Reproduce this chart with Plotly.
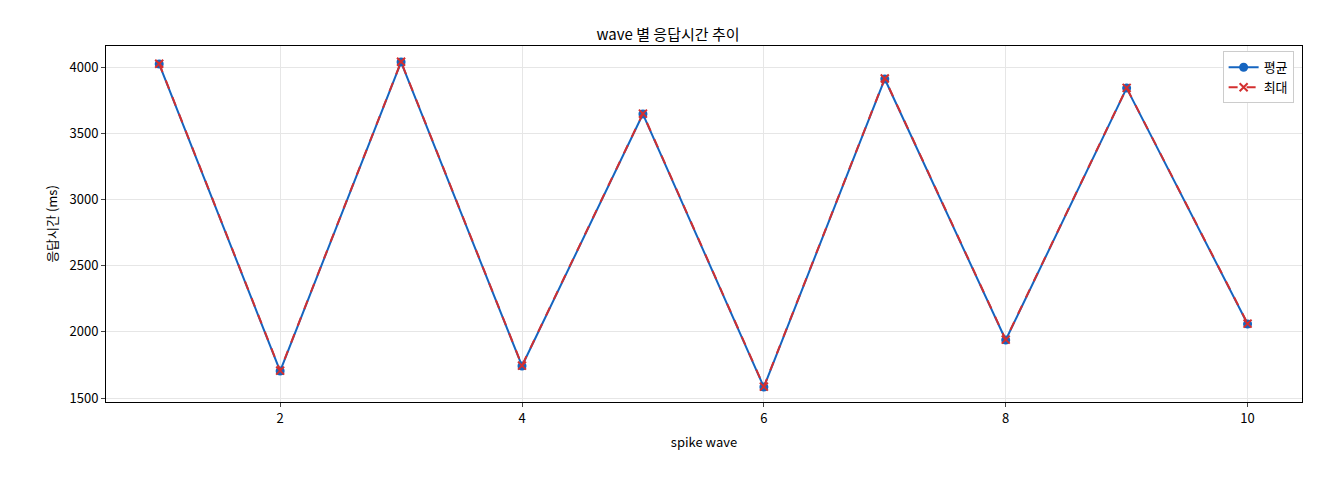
import plotly.graph_objects as go

waves = [1, 2, 3, 4, 5, 6, 7, 8, 9, 10]
avg_ms = [4023, 1704, 4038, 1742, 3645, 1583, 3910, 1938, 3841, 2059]
max_ms = [4025, 1707, 4040, 1745, 3648, 1586, 3913, 1941, 3843, 2062]

FONT = "Noto Sans CJK KR"

fig = go.Figure()
fig.add_trace(go.Scatter(x=waves, y=avg_ms, mode="lines+markers", name="평균",
                         line=dict(color="#1565c0", width=2),
                         marker=dict(size=9, color="#1565c0")))
fig.add_trace(go.Scatter(x=waves, y=max_ms, mode="lines+markers", name="최대",
                         line=dict(color="#d32f2f", width=2, dash="dash"),
                         marker=dict(size=8, color="#d32f2f", symbol="x-thin",
                                     line=dict(width=2, color="#d32f2f"))))

axis = dict(showline=True, mirror=True, linecolor="black", linewidth=1,
            ticks="outside", ticklen=4, gridcolor="#e6e6e6", zeroline=False,
            tickfont=dict(size=13, color="black"))
fig.update_layout(
    width=1320, height=480,
    margin=dict(l=98, r=26, t=38, b=86),
    plot_bgcolor="white", paper_bgcolor="white",
    font=dict(family=FONT, size=13, color="black"),
    title=dict(text="wave 별 응답시간 추이", x=0.5, xanchor="center", y=0.955,
               font=dict(size=15)),
    xaxis=dict(axis, range=[0.56, 10.45], tickvals=[2, 4, 6, 8, 10],
               title=dict(text="spike wave", font=dict(size=13), standoff=12)),
    yaxis=dict(axis, range=[1470, 4159], tickvals=[1500, 2000, 2500, 3000, 3500, 4000],
               title=dict(text="응답시간 (ms)", font=dict(size=13), standoff=8)),
    legend=dict(x=0.993, y=0.985, xanchor="right", yanchor="top",
                bgcolor="white", bordercolor="#cccccc", borderwidth=1,
                font=dict(size=13)),
)
fig.write_html("out.html")
